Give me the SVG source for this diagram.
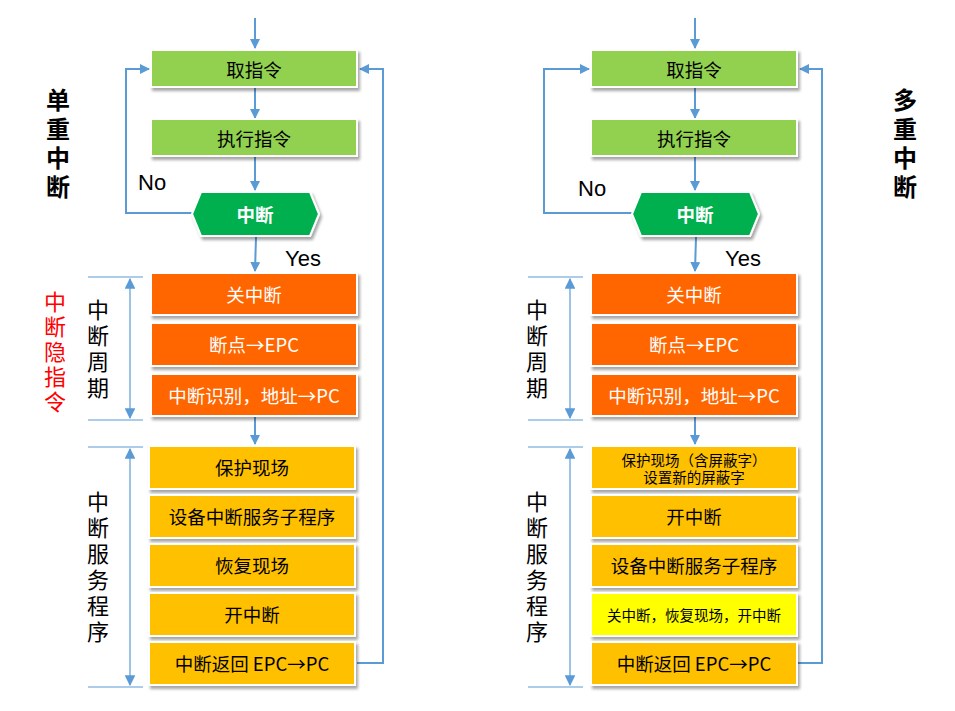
<svg xmlns="http://www.w3.org/2000/svg" width="955" height="711" viewBox="0 0 955 711">
<defs>
<style>
.box{stroke:#fff;stroke-width:2;filter:url(#sh)}
.g{fill:#92D050}.hx{fill:#00B050}.o{fill:#FF6600}.y{fill:#FFC000}.yy{fill:#FFFF00}
.t{font-family:"Microsoft YaHei","Noto Sans CJK SC",sans-serif;font-size:18.5px;text-anchor:middle;dominant-baseline:central}
.tw{fill:#fff}.tk{fill:#000}
.ts{font-size:14.5px}
.c{fill:none;stroke:#5B9BD5;stroke-width:2}
.br{fill:none;stroke:#5B9BD5;stroke-width:1.2}
.lab{font-family:"Liberation Sans",Arial,sans-serif;font-size:22px;fill:#000}
.v{font-family:"Microsoft YaHei","Noto Sans CJK SC",sans-serif;font-size:22px;text-anchor:middle}
.vb{font-family:"Microsoft YaHei","Noto Sans CJK SC",sans-serif;font-size:24px;font-weight:bold;text-anchor:middle}
</style>
<filter id="sh" x="-10%" y="-20%" width="125%" height="150%">
<feDropShadow dx="2" dy="3" stdDeviation="1.8" flood-color="#000" flood-opacity="0.35"/>
</filter>
<marker id="ah" viewBox="0 0 10 10" refX="9" refY="5" markerWidth="5" markerHeight="5" orient="auto-start-reverse" markerUnits="strokeWidth">
<path d="M0,0 L10,5 L0,10 z" fill="#5B9BD5"/>
</marker>
<marker id="ah2" viewBox="0 0 10 10" refX="9" refY="5" markerWidth="9" markerHeight="9" orient="auto-start-reverse" markerUnits="strokeWidth">
<path d="M0,0 L10,5 L0,10 z" fill="#5B9BD5"/>
</marker>
</defs>

<g id="connectors">
<!-- left -->
<line class="c" x1="255" y1="18" x2="255" y2="48" marker-end="url(#ah)"/>
<line class="c" x1="255" y1="88" x2="255" y2="118" marker-end="url(#ah)"/>
<line class="c" x1="255" y1="157" x2="255" y2="190" marker-end="url(#ah)"/>
<line class="c" x1="256" y1="237" x2="255" y2="271" marker-end="url(#ah)"/>
<line class="c" x1="255" y1="417" x2="255" y2="444" marker-end="url(#ah)"/>
<polyline class="c" points="192,213 126,213 126,69 149,69" marker-end="url(#ah)"/>
<polyline class="c" points="357,663 383,663 383,69 360,69" marker-end="url(#ah)"/>
<line class="br" x1="88" y1="277" x2="143" y2="277"/>
<line class="br" x1="88" y1="420" x2="143" y2="420"/>
<line class="br" x1="130" y1="279" x2="130" y2="418" marker-start="url(#ah2)" marker-end="url(#ah2)"/>
<line class="br" x1="88" y1="447" x2="143" y2="447"/>
<line class="br" x1="88" y1="687" x2="143" y2="687"/>
<line class="br" x1="130" y1="449" x2="130" y2="685" marker-start="url(#ah2)" marker-end="url(#ah2)"/>
<!-- right -->
<line class="c" x1="695" y1="18" x2="695" y2="48" marker-end="url(#ah)"/>
<line class="c" x1="695" y1="88" x2="695" y2="118" marker-end="url(#ah)"/>
<line class="c" x1="695" y1="157" x2="695" y2="190" marker-end="url(#ah)"/>
<line class="c" x1="696" y1="237" x2="695" y2="271" marker-end="url(#ah)"/>
<line class="c" x1="695" y1="417" x2="695" y2="444" marker-end="url(#ah)"/>
<polyline class="c" points="632,213 544,213 544,69 589,69" marker-end="url(#ah)"/>
<polyline class="c" points="797,663 822,663 822,69 800,69" marker-end="url(#ah)"/>
<line class="br" x1="528" y1="277" x2="583" y2="277"/>
<line class="br" x1="528" y1="420" x2="583" y2="420"/>
<line class="br" x1="570" y1="279" x2="570" y2="418" marker-start="url(#ah2)" marker-end="url(#ah2)"/>
<line class="br" x1="528" y1="447" x2="583" y2="447"/>
<line class="br" x1="528" y1="687" x2="583" y2="687"/>
<line class="br" x1="570" y1="449" x2="570" y2="685" marker-start="url(#ah2)" marker-end="url(#ah2)"/>
</g>

<!-- left column nodes -->
<g id="L_fetch"><rect class="box g" x="151" y="50" width="206" height="37"/><text class="t tk" x="254" y="69">取指令</text></g>
<g id="L_exec"><rect class="box g" x="151" y="119" width="206" height="37"/><text class="t tk" x="254" y="138">执行指令</text></g>
<g id="L_int"><polygon class="box hx" points="192,214 201,192 310,192 319,214 310,236 201,236"/><text class="t tw" x="255" y="214" font-weight="bold" font-size="17.5">中断</text></g>
<g id="L_no"><text class="lab" x="138" y="190">No</text></g>
<g id="L_yes"><text class="lab" x="285" y="266">Yes</text></g>
<g id="L_o1"><rect class="box o" x="151" y="273" width="206" height="42"/><text class="t tw" x="254" y="294">关中断</text></g>
<g id="L_o2"><rect class="box o" x="151" y="323" width="206" height="43"/><text class="t tw" x="254" y="344">断点→EPC</text></g>
<g id="L_o3"><rect class="box o" x="151" y="374" width="206" height="42"/><text class="t tw" x="254" y="395">中断识别，地址→PC</text></g>
<g id="L_y1"><rect class="box y" x="149" y="446" width="206" height="43"/><text class="t tk" x="252" y="467">保护现场</text></g>
<g id="L_y2"><rect class="box y" x="149" y="495" width="206" height="43"/><text class="t tk" x="252" y="516">设备中断服务子程序</text></g>
<g id="L_y3"><rect class="box y" x="149" y="544" width="206" height="43"/><text class="t tk" x="252" y="565">恢复现场</text></g>
<g id="L_y4"><rect class="box y" x="149" y="593" width="206" height="43"/><text class="t tk" x="252" y="614">开中断</text></g>
<g id="L_y5"><rect class="box y" x="149" y="642" width="206" height="43"/><text class="t tk" x="252" y="663">中断返回 EPC→PC</text></g>

<!-- right column nodes -->
<g id="R_fetch"><rect class="box g" x="591" y="50" width="206" height="37"/><text class="t tk" x="694" y="69">取指令</text></g>
<g id="R_exec"><rect class="box g" x="591" y="119" width="206" height="37"/><text class="t tk" x="694" y="138">执行指令</text></g>
<g id="R_int"><polygon class="box hx" points="632,214 641,192 750,192 759,214 750,236 641,236"/><text class="t tw" x="695" y="214" font-weight="bold" font-size="17.5">中断</text></g>
<g id="R_no"><text class="lab" x="578" y="196">No</text></g>
<g id="R_yes"><text class="lab" x="725" y="266">Yes</text></g>
<g id="R_o1"><rect class="box o" x="591" y="273" width="206" height="42"/><text class="t tw" x="694" y="294">关中断</text></g>
<g id="R_o2"><rect class="box o" x="591" y="323" width="206" height="43"/><text class="t tw" x="694" y="344">断点→EPC</text></g>
<g id="R_o3"><rect class="box o" x="591" y="374" width="206" height="42"/><text class="t tw" x="694" y="395">中断识别，地址→PC</text></g>
<g id="R_y1"><rect class="box y" x="591" y="446" width="206" height="43"/><text class="t tk ts"><tspan x="694" y="459">保护现场（含屏蔽字）</tspan><tspan x="694" y="476">设置新的屏蔽字</tspan></text></g>
<g id="R_y2"><rect class="box y" x="591" y="495" width="206" height="43"/><text class="t tk" x="694" y="516">开中断</text></g>
<g id="R_y3"><rect class="box y" x="591" y="544" width="206" height="43"/><text class="t tk" x="694" y="565">设备中断服务子程序</text></g>
<g id="R_y4"><rect class="box yy" x="591" y="593" width="206" height="43"/><text class="t tk ts" x="694" y="614">关中断，恢复现场，开中断</text></g>
<g id="R_y5"><rect class="box y" x="591" y="642" width="206" height="43"/><text class="t tk" x="694" y="663">中断返回 EPC→PC</text></g>

<!-- side labels -->
<g id="title_single"><text class="vb"><tspan x="58" y="109">单</tspan><tspan x="58" y="138">重</tspan><tspan x="58" y="167">中</tspan><tspan x="58" y="196">断</tspan></text></g>
<g id="title_multi"><text class="vb"><tspan x="905" y="109">多</tspan><tspan x="905" y="138">重</tspan><tspan x="905" y="167">中</tspan><tspan x="905" y="196">断</tspan></text></g>
<g id="hidden_instr"><text class="v" fill="#FF0000" font-size="21"><tspan x="55" y="310">中</tspan><tspan x="55" y="335">断</tspan><tspan x="55" y="360">隐</tspan><tspan x="55" y="385">指</tspan><tspan x="55" y="410">令</tspan></text></g>
<g id="L_cycle"><text class="v" fill="#000"><tspan x="98" y="318">中</tspan><tspan x="98" y="344">断</tspan><tspan x="98" y="370">周</tspan><tspan x="98" y="396">期</tspan></text></g>
<g id="L_service"><text class="v" fill="#000"><tspan x="98" y="510">中</tspan><tspan x="98" y="536">断</tspan><tspan x="98" y="562">服</tspan><tspan x="98" y="588">务</tspan><tspan x="98" y="614">程</tspan><tspan x="98" y="640">序</tspan></text></g>
<g id="R_cycle"><text class="v" fill="#000"><tspan x="537" y="318">中</tspan><tspan x="537" y="344">断</tspan><tspan x="537" y="370">周</tspan><tspan x="537" y="396">期</tspan></text></g>
<g id="R_service"><text class="v" fill="#000"><tspan x="537" y="510">中</tspan><tspan x="537" y="536">断</tspan><tspan x="537" y="562">服</tspan><tspan x="537" y="588">务</tspan><tspan x="537" y="614">程</tspan><tspan x="537" y="640">序</tspan></text></g>
</svg>
